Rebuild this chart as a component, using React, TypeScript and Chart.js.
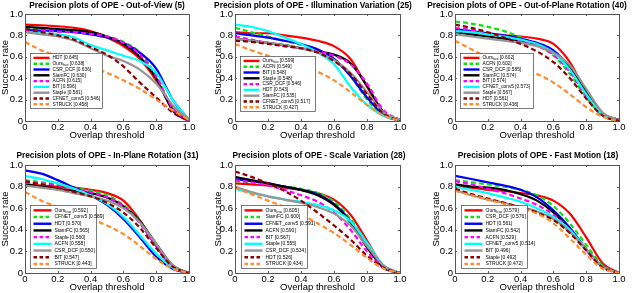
import React, { useEffect, useRef } from "react";
import { Chart, registerables } from "chart.js";
Chart.register(...registerables);

const FONT = "'Liberation Sans', Arial, Helvetica, sans-serif";

const thresholds = [0, 0.1, 0.2, 0.3, 0.4, 0.5, 0.6, 0.7, 0.8, 0.9, 1];
const tickValues = [0, 0.2, 0.4, 0.6, 0.8, 1];
const xAxisLabel = "Overlap threshold";
const yAxisLabel = "Success rate";

// ---- Out-of-View ----
const oovTitle = "Precision plots of OPE - Out-of-View (5)";
const oovNames = ["HDT", "Ours_{hsw}", "CSR_DCF", "SiamFC", "ACFN", "BIT", "Staple", "CFNET_conv5", "STRUCK"];
const oovScores = ["0.645", "0.638", "0.636", "0.630", "0.615", "0.596", "0.581", "0.546", "0.458"];
const oovCurves = [
  [0.9, 0.895, 0.885, 0.87, 0.84, 0.78, 0.7, 0.58, 0.38, 0.12, 0.01],
  [0.86, 0.855, 0.85, 0.84, 0.82, 0.79, 0.74, 0.64, 0.42, 0.12, 0.01],
  [0.85, 0.845, 0.84, 0.83, 0.81, 0.78, 0.73, 0.64, 0.49, 0.2, 0.01],
  [0.88, 0.87, 0.86, 0.85, 0.83, 0.79, 0.72, 0.6, 0.4, 0.1, 0.0],
  [0.84, 0.84, 0.835, 0.83, 0.815, 0.79, 0.73, 0.62, 0.42, 0.12, 0.0],
  [0.83, 0.82, 0.81, 0.78, 0.71, 0.66, 0.61, 0.56, 0.45, 0.2, 0.01],
  [0.83, 0.81, 0.79, 0.75, 0.68, 0.61, 0.56, 0.48, 0.35, 0.15, 0.01],
  [0.86, 0.83, 0.8, 0.76, 0.69, 0.62, 0.51, 0.36, 0.22, 0.08, 0.0],
  [0.74, 0.66, 0.61, 0.56, 0.51, 0.45, 0.38, 0.3, 0.2, 0.1, 0.01],
];

// ---- Illumination Variation ----
const ivTitle = "Precision plots of OPE - Illumination Variation (25)";
const ivNames = ["Ours_{hsw}", "ACFN", "BIT", "Staple", "CSR_DCF", "HDT", "SiamFC", "CFNET_conv5", "STRUCK"];
const ivScores = ["0.599", "0.549", "0.548", "0.548", "0.546", "0.543", "0.535", "0.517", "0.427"];
const ivCurves = [
  [0.83, 0.82, 0.82, 0.8, 0.78, 0.75, 0.7, 0.58, 0.32, 0.08, 0.01],
  [0.87, 0.83, 0.79, 0.75, 0.71, 0.66, 0.58, 0.42, 0.2, 0.05, 0.0],
  [0.82, 0.8, 0.78, 0.75, 0.72, 0.67, 0.58, 0.42, 0.22, 0.06, 0.0],
  [0.77, 0.75, 0.73, 0.71, 0.68, 0.65, 0.62, 0.54, 0.33, 0.08, 0.01],
  [0.79, 0.76, 0.73, 0.7, 0.68, 0.65, 0.61, 0.53, 0.35, 0.1, 0.01],
  [0.9, 0.88, 0.84, 0.78, 0.72, 0.64, 0.53, 0.32, 0.15, 0.05, 0.01],
  [0.77, 0.75, 0.73, 0.71, 0.68, 0.64, 0.57, 0.45, 0.27, 0.08, 0.01],
  [0.75, 0.74, 0.72, 0.7, 0.68, 0.64, 0.56, 0.44, 0.25, 0.07, 0.0],
  [0.72, 0.66, 0.61, 0.56, 0.51, 0.46, 0.38, 0.27, 0.15, 0.05, 0.0],
];

// ---- Out-of-Plane Rotation ----
const opTitle = "Precision plots of OPE - Out-of-Plane Rotation (40)";
const opNames = ["Ours_{hsw}", "ACFN", "CSR_DCF", "SiamFC", "BIT", "CFNET_conv5", "Staple", "HDT", "STRUCK"];
const opScores = ["0.602", "0.602", "0.585", "0.574", "0.574", "0.573", "0.567", "0.561", "0.438"];
const opCurves = [
  [0.84, 0.83, 0.81, 0.8, 0.79, 0.77, 0.72, 0.55, 0.27, 0.07, 0.01],
  [0.93, 0.91, 0.88, 0.84, 0.78, 0.71, 0.61, 0.44, 0.22, 0.05, 0.0],
  [0.86, 0.84, 0.82, 0.8, 0.77, 0.73, 0.66, 0.5, 0.26, 0.06, 0.01],
  [0.83, 0.81, 0.79, 0.77, 0.75, 0.71, 0.64, 0.5, 0.27, 0.07, 0.01],
  [0.87, 0.85, 0.82, 0.79, 0.75, 0.7, 0.62, 0.46, 0.24, 0.06, 0.0],
  [0.84, 0.83, 0.81, 0.79, 0.76, 0.72, 0.64, 0.48, 0.25, 0.06, 0.0],
  [0.81, 0.79, 0.77, 0.75, 0.73, 0.7, 0.64, 0.52, 0.3, 0.08, 0.01],
  [0.9, 0.87, 0.83, 0.78, 0.72, 0.65, 0.55, 0.4, 0.21, 0.05, 0.0],
  [0.75, 0.67, 0.6, 0.55, 0.5, 0.44, 0.36, 0.25, 0.13, 0.04, 0.0],
];

// ---- In-Plane Rotation ----
const ipTitle = "Precision plots of OPE - In-Plane Rotation (31)";
const ipNames = ["Ours_{hsw}", "CFNET_conv5", "HDT", "SiamFC", "Staple", "ACFN", "CSR_DCF", "BIT", "STRUCK"];
const ipScores = ["0.592", "0.589", "0.570", "0.565", "0.560", "0.558", "0.550", "0.547", "0.443"];
const ipCurves = [
  [0.82, 0.81, 0.8, 0.79, 0.77, 0.74, 0.67, 0.49, 0.25, 0.06, 0.0],
  [0.86, 0.84, 0.82, 0.79, 0.76, 0.72, 0.63, 0.48, 0.25, 0.06, 0.0],
  [0.95, 0.92, 0.86, 0.79, 0.72, 0.63, 0.5, 0.33, 0.15, 0.04, 0.0],
  [0.82, 0.8, 0.78, 0.76, 0.74, 0.7, 0.62, 0.48, 0.27, 0.07, 0.0],
  [0.84, 0.83, 0.81, 0.78, 0.75, 0.7, 0.62, 0.46, 0.25, 0.06, 0.0],
  [0.9, 0.87, 0.83, 0.78, 0.72, 0.64, 0.52, 0.35, 0.18, 0.05, 0.0],
  [0.81, 0.79, 0.77, 0.74, 0.71, 0.67, 0.6, 0.47, 0.27, 0.07, 0.0],
  [0.85, 0.82, 0.79, 0.75, 0.71, 0.65, 0.56, 0.42, 0.23, 0.06, 0.0],
  [0.75, 0.67, 0.61, 0.56, 0.5, 0.44, 0.36, 0.25, 0.13, 0.04, 0.0],
];

// ---- Scale Variation ----
const svTitle = "Precision plots of OPE - Scale Variation (28)";
const svNames = ["Ours_{hsw}", "SiamFC", "CFNET_conv5", "ACFN", "BIT", "Staple", "CSR_DCF", "HDT", "STRUCK"];
const svScores = ["0.605", "0.600", "0.591", "0.590", "0.567", "0.555", "0.534", "0.526", "0.434"];
const svCurves = [
  [0.83, 0.82, 0.81, 0.79, 0.77, 0.74, 0.68, 0.54, 0.3, 0.06, 0.0],
  [0.85, 0.84, 0.82, 0.8, 0.78, 0.74, 0.66, 0.5, 0.27, 0.06, 0.0],
  [0.87, 0.85, 0.83, 0.8, 0.77, 0.73, 0.64, 0.48, 0.24, 0.05, 0.0],
  [0.89, 0.86, 0.83, 0.8, 0.77, 0.72, 0.63, 0.47, 0.24, 0.05, 0.0],
  [0.86, 0.84, 0.81, 0.77, 0.72, 0.66, 0.56, 0.4, 0.2, 0.05, 0.0],
  [0.78, 0.74, 0.71, 0.68, 0.66, 0.63, 0.58, 0.48, 0.28, 0.07, 0.0],
  [0.8, 0.75, 0.71, 0.68, 0.65, 0.61, 0.55, 0.44, 0.25, 0.07, 0.0],
  [0.94, 0.89, 0.83, 0.76, 0.67, 0.56, 0.44, 0.31, 0.16, 0.05, 0.0],
  [0.79, 0.73, 0.67, 0.61, 0.54, 0.46, 0.37, 0.26, 0.14, 0.04, 0.0],
];

// ---- Fast Motion ----
const fmTitle = "Precision plots of OPE - Fast Motion (18)";
const fmNames = ["Ours_{hsw}", "CSR_DCF", "HDT", "SiamFC", "ACFN", "CFNET_conv5", "BIT", "Staple", "STRUCK"];
const fmScores = ["0.579", "0.576", "0.561", "0.542", "0.529", "0.514", "0.496", "0.492", "0.472"];
const fmCurves = [
  [0.8, 0.79, 0.77, 0.76, 0.74, 0.72, 0.67, 0.55, 0.33, 0.09, 0.0],
  [0.86, 0.84, 0.82, 0.8, 0.77, 0.72, 0.62, 0.46, 0.26, 0.07, 0.0],
  [0.9, 0.87, 0.84, 0.81, 0.77, 0.7, 0.58, 0.42, 0.22, 0.06, 0.0],
  [0.82, 0.8, 0.79, 0.77, 0.73, 0.67, 0.56, 0.4, 0.22, 0.06, 0.0],
  [0.85, 0.82, 0.78, 0.74, 0.69, 0.63, 0.54, 0.4, 0.21, 0.06, 0.0],
  [0.8, 0.77, 0.74, 0.7, 0.66, 0.6, 0.52, 0.4, 0.22, 0.06, 0.0],
  [0.77, 0.72, 0.68, 0.65, 0.61, 0.57, 0.5, 0.38, 0.22, 0.06, 0.0],
  [0.78, 0.73, 0.69, 0.65, 0.61, 0.56, 0.49, 0.37, 0.21, 0.05, 0.0],
  [0.76, 0.72, 0.68, 0.64, 0.6, 0.55, 0.46, 0.32, 0.17, 0.04, 0.0],
];

// styles by legend rank
const rankColors = ["#ff0000", "#11e011", "#0000ff", "#000000", "#ff00ff", "#00ffff", "#959595", "#8b0000", "#ff8c2e"];
const rankDashed = [false, true, false, false, true, false, false, true, true];

const matPlugin = {
  id: "matAxes",
  afterDraw(chart: any, _a: any, opts: any) {
    const { ctx, chartArea: ca } = chart;
    const xs = chart.scales.x;
    const ys = chart.scales.y;
    ctx.save();
    // title
    ctx.fillStyle = "#000";
    ctx.font = `bold ${opts.titleSize}px ${FONT}`;
    ctx.textAlign = "center";
    ctx.textBaseline = "middle";
    ctx.fillText(opts.title, opts.titleX, opts.titleY);
    // inward ticks
    ctx.strokeStyle = "#333";
    ctx.lineWidth = 0.8;
    ctx.beginPath();
    for (const v of tickValues) {
      const px = Math.round(xs.getPixelForValue(v)) + 0.5;
      ctx.moveTo(px, ca.bottom);
      ctx.lineTo(px, ca.bottom - 2);
      ctx.moveTo(px, ca.top);
      ctx.lineTo(px, ca.top + 2);
      const py = Math.round(ys.getPixelForValue(v)) + 0.5;
      ctx.moveTo(ca.left, py);
      ctx.lineTo(ca.left + 2, py);
      ctx.moveTo(ca.right, py);
      ctx.lineTo(ca.right - 2, py);
    }
    ctx.stroke();
    ctx.strokeStyle = "#555";
    ctx.lineWidth = 1;
    ctx.strokeRect(Math.round(ca.left) + 0.5, Math.round(ca.top) + 0.5, Math.round(ca.right - ca.left), Math.round(ca.bottom - ca.top));

    // legend
    const ds = chart.data.datasets;
    const n = ds.length;
    const rowH = opts.rowH;
    const boxH = n * rowH + 3;
    const x0 = Math.round(ca.left + opts.offX) + 0.5;
    const y1 = Math.round(ca.bottom - opts.gapB) + 0.5;
    const y0 = y1 - Math.round(boxH);
    ctx.fillStyle = "#fff";
    ctx.fillRect(x0, y0, opts.width, y1 - y0);
    ctx.strokeStyle = "#444";
    ctx.lineWidth = 0.7;
    ctx.strokeRect(x0, y0, opts.width, y1 - y0);
    ds.forEach((d: any, i: number) => {
      const y = y0 + 1.5 + (i + 0.5) * rowH;
      ctx.beginPath();
      ctx.setLineDash(d.borderDash && d.borderDash.length ? [3.5, 2.5] : []);
      ctx.strokeStyle = d.borderColor;
      ctx.lineWidth = 2.4;
      ctx.moveTo(x0 + opts.lx0, y);
      ctx.lineTo(x0 + opts.lx1, y);
      ctx.stroke();
      ctx.setLineDash([]);
      ctx.fillStyle = "#000";
      ctx.textBaseline = "middle";
      ctx.textAlign = "left";
      const label: string = d.label;
      const m = label.match(/^(.*)_\{(.*)\}(.*)$/);
      let tx = x0 + opts.tx;
      ctx.font = `${opts.fs}px ${FONT}`;
      if (m) {
        ctx.fillText(m[1], tx, y);
        tx += ctx.measureText(m[1]).width;
        ctx.font = `${opts.fs * 0.65}px ${FONT}`;
        ctx.fillText(m[2], tx, y + opts.fs * 0.35);
        tx += ctx.measureText(m[2]).width;
        ctx.font = `${opts.fs}px ${FONT}`;
        ctx.fillText(m[3], tx, y);
      } else {
        ctx.fillText(label, tx, y);
      }
    });
    ctx.restore();
  },
};

type PanelProps = {
  title: string;
  names: string[];
  scores: string[];
  curves: number[][];
  left: number;
  top: number;
  w: number;
  h: number;
  pl: number;
  pr: number;
  pt: number;
  pb: number;
  yw: number;
  xh: number;
  titleX: number;
  titleY: number;
  legend: any;
};

function Panel(p: PanelProps) {
  const ref = useRef<HTMLCanvasElement>(null);
  useEffect(() => {
    const datasets = p.curves.map((c, i) => ({
      label: `${p.names[i]} [${p.scores[i]}]`,
      data: thresholds.map((t, k) => ({ x: t, y: c[k] })),
      borderColor: rankColors[i],
      backgroundColor: rankColors[i],
      borderDash: rankDashed[i] ? [5, 3] : [],
      borderWidth: 2.2,
      pointRadius: 0,
      fill: false,
      cubicInterpolationMode: "monotone" as const,
      order: -i,
    }));
    const axisFont = { family: FONT, size: 9.5 };
    const chart = new Chart(ref.current as HTMLCanvasElement, {
      type: "line",
      data: { datasets },
      plugins: [matPlugin],
      options: {
        responsive: false,
        animation: false,
        layout: { padding: { left: p.pl, right: p.pr, top: p.pt, bottom: p.pb } },
        plugins: {
          legend: { display: false },
          tooltip: { enabled: false },
          title: { display: false },
          matAxes: { ...p.legend, title: p.title, titleX: p.titleX, titleY: p.titleY, titleSize: 8.3 },
        } as any,
        scales: {
          x: {
            type: "linear",
            min: 0,
            max: 1,
            afterBuildTicks: (s: any) => {
              s.ticks = tickValues.map((v) => ({ value: v }));
            },
            ticks: { color: "#000", font: axisFont, padding: 1, maxRotation: 0 },
            grid: { display: false, drawTicks: false },
            border: { display: false },
            title: { display: true, text: xAxisLabel, color: "#000", font: axisFont, padding: 0 },
            afterFit: (s: any) => {
              s.height = p.xh;
              s.paddingLeft = 0;
              s.paddingRight = 0;
            },
          },
          y: {
            type: "linear",
            min: 0,
            max: 1,
            afterBuildTicks: (s: any) => {
              s.ticks = tickValues.map((v) => ({ value: v }));
            },
            ticks: { color: "#000", font: axisFont, padding: 2 },
            grid: { display: false, drawTicks: false },
            border: { display: false },
            title: { display: true, text: yAxisLabel, color: "#000", font: axisFont, padding: 0 },
            afterFit: (s: any) => {
              s.width = p.yw;
              s.paddingTop = 0;
              s.paddingBottom = 0;
            },
          },
        },
      } as any,
    });
    return () => chart.destroy();
  }, []);
  return (
    <canvas
      ref={ref}
      width={p.w}
      height={p.h}
      style={{ position: "absolute", left: p.left, top: p.top, width: p.w, height: p.h, display: "block" }}
    />
  );
}

const topLegend = { rowH: 5.8, fs: 4.8, width: 72, offX: 5, gapB: 13, lx0: 3, lx1: 19, tx: 22 };
const botLegend = { rowH: 6.7, fs: 5, width: 66, offX: 5, gapB: 5, lx0: 3, lx1: 21, tx: 24 };

export default function App() {
  return (
    <div style={{ position: "fixed", left: 0, top: 0, width: 640, height: 293, background: "#fff", overflow: "hidden" }}>
      <Panel title={oovTitle} names={oovNames} scores={oovScores} curves={oovCurves}
        left={0} top={0} w={213} h={146} pl={0} pr={24} pt={14} pb={4.6} yw={25} xh={20.4}
        titleX={107} titleY={5.5} legend={topLegend} />
      <Panel title={ivTitle} names={ivNames} scores={ivScores} curves={ivCurves}
        left={213} top={0} w={213} h={146} pl={0} pr={26} pt={14} pb={4.6} yw={22} xh={20.4}
        titleX={100} titleY={5.5} legend={{ ...topLegend, width: 75, gapB: 10 }} />
      <Panel title={opTitle} names={opNames} scores={opScores} curves={opCurves}
        left={426} top={0} w={214} h={146} pl={5} pr={21} pt={14} pb={4.6} yw={24} xh={20.4}
        titleX={101} titleY={5.5} legend={{ ...topLegend, width: 73, gapB: 13 }} />
      <Panel title={ipTitle} names={ipNames} scores={ipScores} curves={ipCurves}
        left={0} top={146} w={213} h={147} pl={0} pr={24} pt={19} pb={0} yw={25} xh={20}
        titleX={107.5} titleY={10} legend={botLegend} />
      <Panel title={svTitle} names={svNames} scores={svScores} curves={svCurves}
        left={213} top={146} w={213} h={147} pl={0} pr={26} pt={19} pb={0} yw={22} xh={20}
        titleX={106} titleY={10} legend={{ ...botLegend, offX: 6 }} />
      <Panel title={fmTitle} names={fmNames} scores={fmScores} curves={fmCurves}
        left={426} top={146} w={214} h={147} pl={5} pr={21} pt={19} pb={0} yw={24} xh={20}
        titleX={112} titleY={10} legend={{ ...botLegend, offX: 6 }} />
    </div>
  );
}
